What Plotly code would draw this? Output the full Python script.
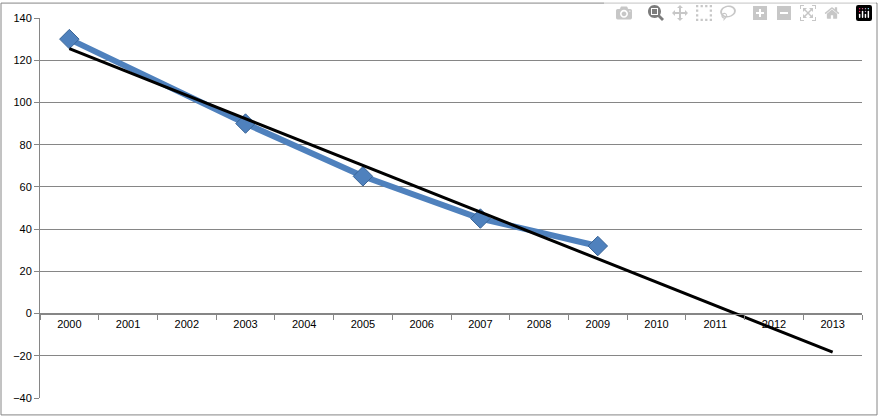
import numpy as np
import plotly.graph_objects as go

categories = [str(y) for y in range(2000, 2014)]
data_years = [2000, 2003, 2005, 2007, 2009]
data_values = [130, 90, 65, 45, 32]
y_ticks = [-40, -20, 0, 20, 40, 60, 80, 100, 120, 140]

xi = [categories.index(str(y)) for y in data_years]
slope, intercept = np.polyfit(xi, data_values, 1)
tx = [0, len(categories) - 1]
ty = [intercept + slope * t for t in tx]

fig = go.Figure()
fig.add_trace(go.Scatter(x=xi, y=data_values, mode="lines+markers",
    line=dict(color="#4F81BD", width=6),
    marker=dict(symbol="diamond", size=15, color="#4F81BD", line=dict(color="#3A6597", width=1))))
fig.add_trace(go.Scatter(x=tx, y=ty, mode="lines", line=dict(color="black", width=3)))

fig.update_layout(
    width=878, height=416, showlegend=False,
    margin=dict(l=40, r=16, t=16, b=18),
    plot_bgcolor="white", paper_bgcolor="white",
    font=dict(family="Liberation Sans, Arial", size=11, color="black"),
    xaxis=dict(range=[-0.5, 13.5], tickvals=list(range(14)), ticktext=categories,
               anchor="free", position=40/180, showgrid=False, zeroline=False,
               showline=True, linecolor="#868686", ticks="", ticklen=0,
               minor=dict(tick0=0.5, dtick=1, ticks="outside", ticklen=5, tickcolor="#868686")),
    yaxis=dict(range=[-40, 140], tickvals=y_ticks, showgrid=True, gridcolor="#868686",
               gridwidth=1, zeroline=False, showline=True, linecolor="#868686",
               ticks="outside", ticklen=5, tickcolor="#868686"),
    shapes=[dict(type="rect", xref="paper", yref="paper", x0=-39/822, x1=1+15/822,
                 y0=-17/382, y1=1+15/382, line=dict(color="#868686", width=1))],
)
fig.write_html("out.html", post_script="document.body.style.margin='0';document.body.style.overflow='hidden';")
